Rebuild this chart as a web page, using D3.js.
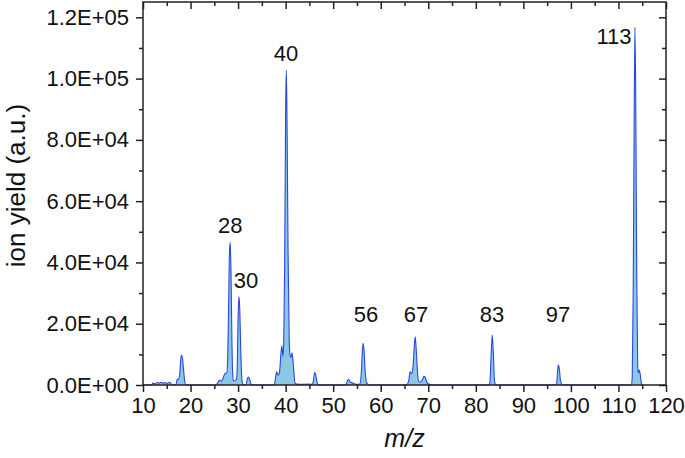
<!DOCTYPE html>
<html>
<head>
<meta charset="utf-8">
<script src="https://cdn.jsdelivr.net/npm/d3@7"></script>
<style>
  html, body { margin: 0; padding: 0; background: #fff; }
  svg { display: block; }
  text { font-family: "Liberation Sans", Arial, sans-serif; fill: #111; }
</style>
</head>
<body>
<svg id="chart" width="685" height="458"></svg>
<script>
// ---- data ----
const mz = [10, 11.8, 12.1, 12.5, 13.0, 13.4, 13.9, 14.3, 14.7, 15.1, 15.6, 16.0, 16.3,
  16.9, 17.2, 17.5, 17.75, 17.95, 18.1, 18.3, 18.5, 18.75, 19.0,
  25.2, 25.7, 26.1, 26.5, 26.9, 27.3, 27.6, 27.8, 28.0, 28.2, 28.35, 28.5, 28.7, 28.85, 29.0, 29.3, 29.7,
  29.85, 30.0, 30.2, 30.35, 30.55, 30.75, 30.95, 31.2, 31.7, 32.0, 32.2, 32.5, 32.8,
  37.6, 37.8, 38.1, 38.4, 38.7, 39.0, 39.2, 39.45, 39.6, 39.8, 40.0, 40.15, 40.3, 40.5, 40.75, 40.95, 41.15, 41.35, 41.6, 41.8, 42.0, 42.3,
  43.5, 44.5, 45.5, 45.8, 46.1, 46.3, 46.6, 46.9,
  52.4, 52.8, 53.2, 53.6, 54.0, 54.4, 55.2, 55.6, 55.9, 56.1, 56.3, 56.5, 56.75, 57.0, 57.3, 57.6,
  65.2, 65.6, 65.9, 66.2, 66.5, 66.8, 67.05, 67.25, 67.45, 67.7, 67.95, 68.3, 68.7, 69.1, 69.35, 69.7, 70.1, 70.8,
  82.8, 83.0, 83.2, 83.45, 83.7, 83.9, 84.1, 84.5,
  96.8, 97.0, 97.2, 97.35, 97.55, 97.8, 98.1, 98.4,
  112.75, 112.9, 113.1, 113.3, 113.47, 113.65, 113.85, 114.05, 114.2, 114.35, 114.55, 114.8, 115.0];
const ionYield = [0, 0, 600, 400, 800, 600, 900, 600, 800, 500, 900, 300, 0,
  0, 1800, 2000, 4000, 8500, 9800, 8800, 5500, 1500, 0,
  0, 600, 1600, 1200, 2500, 3800, 3900, 8000, 25000, 44000, 46500, 38000, 15000, 4000, 1500, 1400, 2000,
  8000, 22000, 28800, 25000, 12000, 3000, 500, 0, 300, 2300, 2600, 1500, 0,
  0, 1500, 4300, 3200, 4000, 10000, 12700, 9300, 14000, 40000, 90000, 102800, 85000, 45000, 15000, 9500, 9000, 10500, 7000, 3000, 500, 300,
  200, 300, 200, 1000, 4100, 3500, 1000, 0,
  0, 500, 1900, 900, 700, 400, 200, 300, 3500, 10000, 13600, 11000, 4000, 800, 300, 0,
  0, 300, 1500, 4300, 3800, 6000, 12500, 15700, 12000, 5000, 1200, 1000, 1500, 2800, 2600, 900, 300, 0,
  0, 1500, 9000, 16300, 10000, 2000, 300, 0,
  0, 500, 4500, 6500, 5500, 1500, 200, 0,
  0, 3000, 30000, 85000, 116700, 90000, 35000, 6000, 4000, 4900, 3800, 800, 0];

const peakLabels = ["28", "30", "40", "56", "67", "83", "97", "113"];
const peakLabelX = [28.36, 31.66, 40.07, 56.9, 67.41, 83.4, 97.28, 109.05];
const peakLabelY = [49600, 31650, 105700, 20550, 20550, 20550, 20550, 111300];

const xTicks = [10, 20, 30, 40, 50, 60, 70, 80, 90, 100, 110, 120];
const xMinorTicks = [15, 25, 35, 45, 55, 65, 75, 85, 95, 105, 115];
const yTicks = [0, 20000, 40000, 60000, 80000, 100000, 120000];
const yTickLabels = ["0.0E+00", "2.0E+04", "4.0E+04", "6.0E+04", "8.0E+04", "1.0E+05", "1.2E+05"];
const yMinorTicks = [10000, 30000, 50000, 70000, 90000, 110000];

// ---- layout ----
const svg = d3.select("#chart");
const L = 143, R = 666, T = 2, B = 385;
const x = d3.scaleLinear().domain([10, 120]).range([L, R]);
const y = d3.scaleLinear().domain([0, 125000]).range([B, T]);

const pts = mz.map((m, i) => [m, ionYield[i]]);

svg.append("path")
  .datum(pts)
  .attr("fill", "#8cc8e6")
  .attr("d", d3.area().curve(d3.curveMonotoneX).x(d => x(d[0])).y0(y(0)).y1(d => y(d[1])));

svg.append("path")
  .datum(pts)
  .attr("fill", "none")
  .attr("stroke", "#2a48e0")
  .attr("stroke-width", 1.1)
  .attr("stroke-linejoin", "round")
  .attr("d", d3.line().curve(d3.curveMonotoneX).x(d => x(d[0])).y(d => y(d[1])));

// ---- axes ----
const fs = 22;
const axStroke = "#222";
function styleAxis(g) {
  g.select(".domain").remove();
  g.selectAll(".tick line").attr("stroke", axStroke).attr("stroke-width", 1.5);
  g.selectAll(".tick text").attr("font-size", fs).attr("font-family", "Liberation Sans, Arial, sans-serif").attr("fill", "#111");
}

// bottom
svg.append("g").attr("transform", `translate(0,${B})`)
  .call(d3.axisBottom(x).tickValues(xTicks).tickFormat(d3.format("d")).tickSize(7).tickPadding(5))
  .call(styleAxis);
svg.append("g").attr("transform", `translate(0,${B})`)
  .call(d3.axisBottom(x).tickValues(xMinorTicks).tickFormat("").tickSize(4))
  .call(styleAxis);
// top (inward)
svg.append("g").attr("transform", `translate(0,${T})`)
  .call(d3.axisBottom(x).tickValues(xTicks).tickFormat("").tickSize(7))
  .call(styleAxis);
svg.append("g").attr("transform", `translate(0,${T})`)
  .call(d3.axisBottom(x).tickValues(xMinorTicks).tickFormat("").tickSize(4))
  .call(styleAxis);
// left
svg.append("g").attr("transform", `translate(${L},0)`)
  .call(d3.axisLeft(y).tickValues(yTicks).tickFormat((d, i) => yTickLabels[i]).tickSize(7).tickPadding(7))
  .call(styleAxis);
svg.append("g").attr("transform", `translate(${L},0)`)
  .call(d3.axisLeft(y).tickValues(yMinorTicks).tickFormat("").tickSize(4))
  .call(styleAxis);
// right (inward)
svg.append("g").attr("transform", `translate(${R},0)`)
  .call(d3.axisLeft(y).tickValues(yTicks).tickFormat("").tickSize(7))
  .call(styleAxis);
svg.append("g").attr("transform", `translate(${R},0)`)
  .call(d3.axisLeft(y).tickValues(yMinorTicks).tickFormat("").tickSize(4))
  .call(styleAxis);

// frame
svg.append("rect")
  .attr("x", L).attr("y", T).attr("width", R - L).attr("height", B - T)
  .attr("fill", "none").attr("stroke", axStroke).attr("stroke-width", 1.5);

// peak labels
svg.append("g").selectAll("text")
  .data(peakLabels)
  .join("text")
  .attr("x", (d, i) => x(peakLabelX[i]))
  .attr("y", (d, i) => y(peakLabelY[i]))
  .attr("text-anchor", "middle")
  .attr("font-size", fs)
  .text(d => d);

// axis titles
svg.append("text")
  .attr("transform", `translate(25,${(T + B) / 2 - 8}) rotate(-90)`)
  .attr("text-anchor", "middle")
  .attr("font-size", 26)
  .text("ion yield (a.u.)");

svg.append("text")
  .attr("x", (L + R) / 2)
  .attr("y", 447)
  .attr("text-anchor", "middle")
  .attr("font-size", 25)
  .attr("font-style", "italic")
  .text("m/z");
</script>
</body>
</html>
